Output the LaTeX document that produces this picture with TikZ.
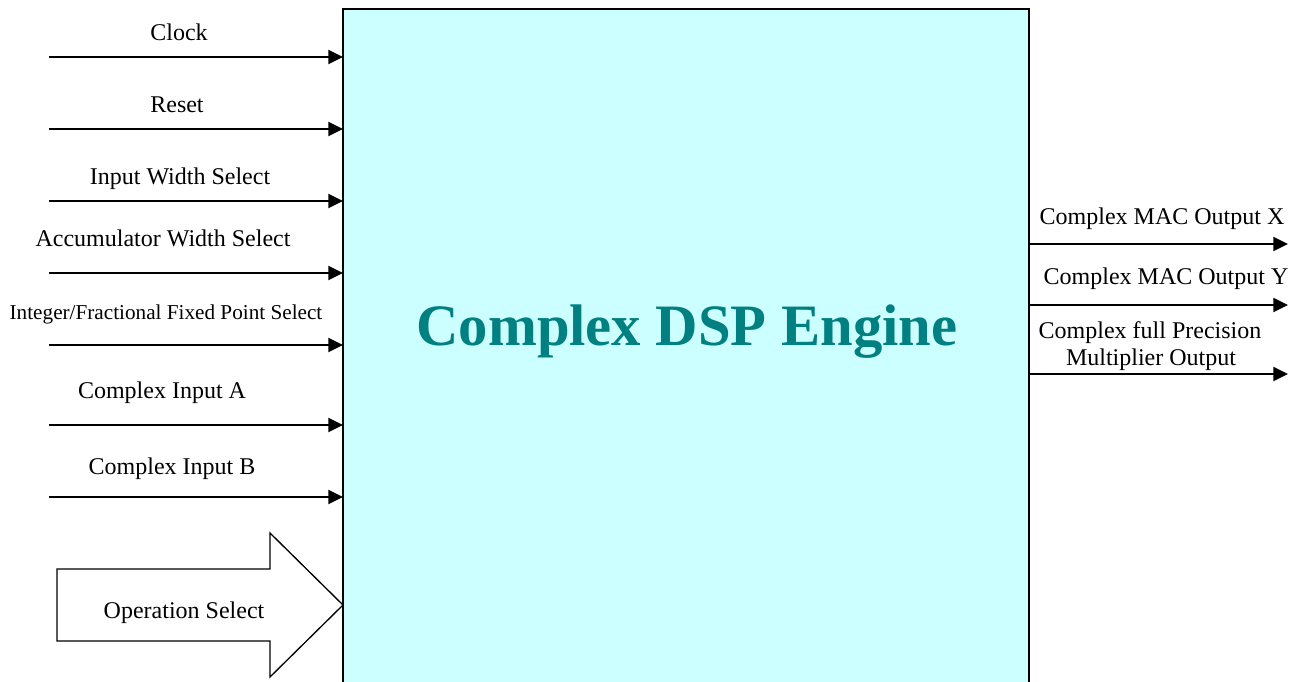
\documentclass[tikz,border=0pt]{standalone}
\usepackage{fontspec}
\setmainfont{Liberation Serif}
\usetikzlibrary{arrows.meta}
\definecolor{boxfill}{HTML}{CCFFFF}
\definecolor{titleteal}{HTML}{008080}
\begin{document}
\begin{tikzpicture}[x=0.75pt,y=-0.75pt,
  sig/.style={line width=1.5pt,-{Triangle[length=11pt,width=10.5pt]}},
  lbl/.style={anchor=base,inner sep=0pt,font=\fontsize{18}{21}\selectfont},
  lblsmall/.style={anchor=base,inner sep=0pt,font=\fontsize{15.9}{19}\selectfont}]
\useasboundingbox (0,0) rectangle (1297,682);
% main block
\path[draw=black,line width=1.5pt,fill=boxfill] (343,9) rectangle (1029,700);
\node[anchor=base,inner sep=0pt,text=titleteal,font=\fontsize{44}{50}\selectfont\bfseries] (title) at (687,345) {Complex DSP Engine};
% input coordinates
\foreach \n/\y in {1/57,2/129,3/201,4/273,5/345,6/425,7/497}{
  \coordinate (s\n) at (49,\y);
  \coordinate (e\n) at (343,\y);
}
\foreach \n in {1,...,7}{ \draw[sig] (s\n) -- (e\n); }
\node[lbl] (l1) at (179,40) {Clock};
\node[lbl] (l2) at (177,112) {Reset};
\node[lbl] (l3) at (180,184) {Input Width Select};
\node[lbl] (l4) at (163,246) {Accumulator Width Select};
\node[lblsmall] (l5) at (166,319) {Integer/Fractional Fixed Point Select};
\node[lbl] (l6) at (162,398) {Complex Input A};
\node[lbl] (l7) at (172,474) {Complex Input B};
% outputs
\foreach \n/\y in {1/244,2/305,3/374}{
  \coordinate (os\n) at (1029,\y);
  \coordinate (oe\n) at (1288,\y);
}
\foreach \n in {1,2,3}{ \draw[sig] (os\n) -- (oe\n); }
\node[lbl] (o1) at (1162,224) {Complex MAC Output X};
\node[lbl] (o2) at (1166,284) {Complex MAC Output Y};
\node[lbl] (o3a) at (1150,338) {Complex full Precision};
\node[lbl] (o3b) at (1151,365) {Multiplier Output};
% block arrow
\draw[line width=1pt,fill=white,line join=miter]
  (57,569) -- (270,569) -- (270,533) -- (343,605) -- (270,677) -- (270,641) -- (57,641) -- cycle;
\node[lbl] (op) at (184,618) {Operation Select};
\end{tikzpicture}
\end{document}
